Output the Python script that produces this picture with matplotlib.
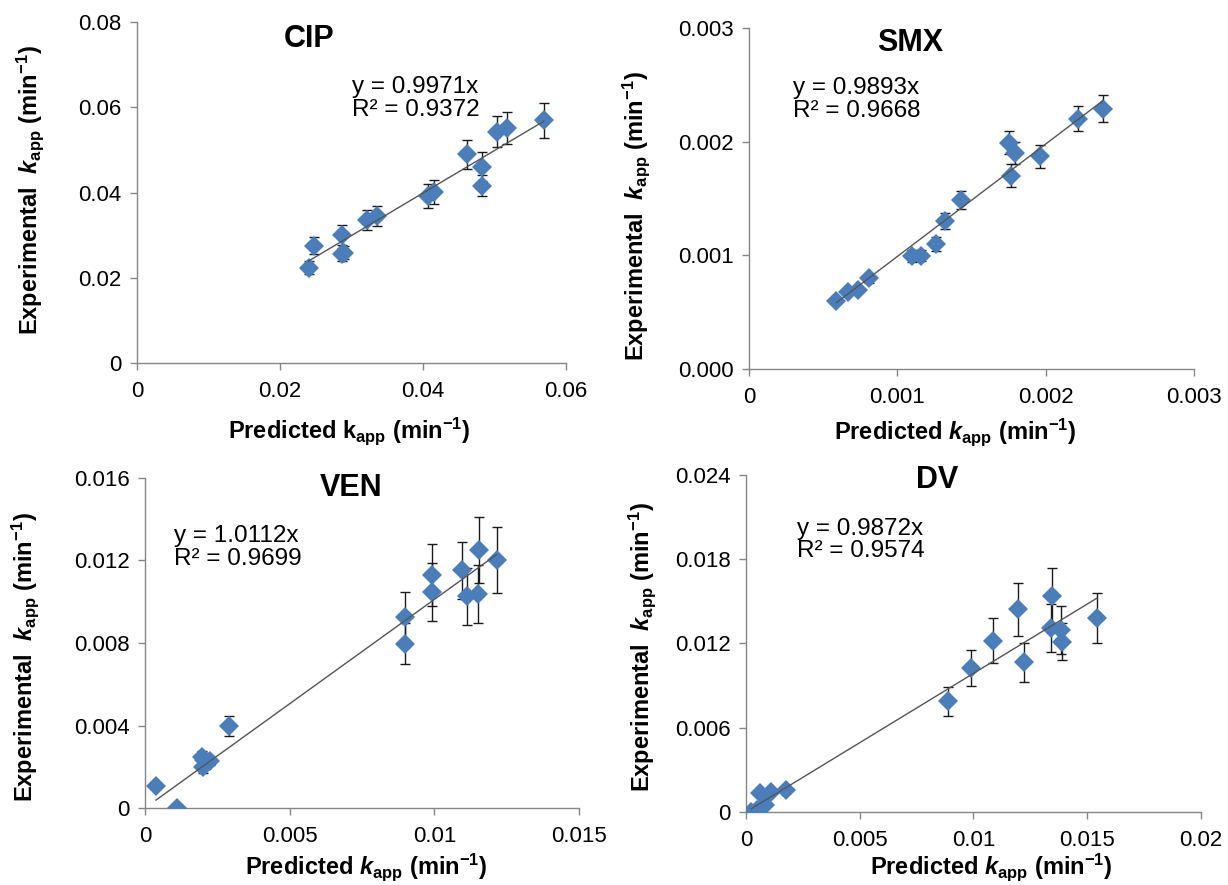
import matplotlib
matplotlib.use("Agg")
import matplotlib.pyplot as plt

plt.rcParams['font.family'] = ['Liberation Sans', 'DejaVu Sans']
plt.rcParams['mathtext.fontset'] = 'custom'
plt.rcParams['mathtext.rm'] = 'Liberation Sans'
plt.rcParams['mathtext.it'] = 'Liberation Sans:italic'
plt.rcParams['mathtext.bf'] = 'Liberation Sans:bold'
plt.rcParams['mathtext.bfit'] = 'Liberation Sans:italic:bold'

# CIP
cip_pred = [0.0240, 0.0248, 0.0287, 0.0286, 0.0290, 0.0322, 0.0335, 0.0407, 0.0416,
            0.0461, 0.0483, 0.0483, 0.0504, 0.0518, 0.0569]
cip_exp = [0.0224, 0.0275, 0.0301, 0.0255, 0.0259, 0.0336, 0.0345, 0.0391, 0.0402,
           0.0490, 0.0461, 0.0416, 0.0543, 0.0551, 0.0569]
cip_err = [0.0015, 0.0020, 0.0023, 0.0015, 0.0015, 0.0023, 0.0023, 0.0028, 0.0028,
           0.0034, 0.0033, 0.0025, 0.0037, 0.0037, 0.0040]

# SMX
smx_pred = [0.00059, 0.000667, 0.000733, 0.00081, 0.0011, 0.001157, 0.001259, 0.00132,
            0.001427, 0.001752, 0.001792, 0.001765, 0.001965, 0.002219, 0.002387]
smx_exp = [0.000598, 0.00068, 0.000695, 0.000798, 0.000994, 0.000997, 0.0011, 0.0013,
           0.00149, 0.00199, 0.0019, 0.0017, 0.00187, 0.0022, 0.00229]
smx_err = [0.00002, 0.00003, 0.00003, 0.00004, 0.00005, 0.00005, 0.00006, 0.00007,
           0.00008, 0.0001, 0.0001, 0.0001, 0.0001, 0.00011, 0.00012]

# VEN
ven_pred = [0.00038, 0.00109, 0.00196, 0.00200, 0.00205, 0.00225, 0.0029, 0.0090, 0.0090,
            0.00993, 0.00993, 0.01094, 0.01112, 0.01152, 0.01155, 0.01215]
ven_exp = [0.00105, 0.0, 0.00247, 0.00199, 0.00235, 0.00228, 0.00398, 0.00926, 0.00797,
           0.01131, 0.01047, 0.01152, 0.01026, 0.01039, 0.0125, 0.01201]
ven_err = [0, 0, 0.0003, 0.0003, 0.0003, 0.0002, 0.0005, 0.0012, 0.0010,
           0.0015, 0.0014, 0.0014, 0.0014, 0.0014, 0.0016, 0.0016]

# DV
dv_pred = [0.00023, 0.0005, 0.00082, 0.00063, 0.0011, 0.00177, 0.00886, 0.00987, 0.01087,
           0.01194, 0.01221, 0.01346, 0.01339, 0.01383, 0.01387, 0.01541]
dv_exp = [0.0, 0.00017, 0.0005, 0.00135, 0.0014, 0.00159, 0.00787, 0.01024, 0.01221,
          0.01444, 0.01065, 0.01539, 0.01309, 0.01297, 0.01214, 0.0138]
dv_err = [0, 0, 0, 0, 0, 0, 0.001, 0.0013, 0.0016, 0.0019, 0.0014, 0.002, 0.0017,
          0.0017, 0.0013, 0.0018]

names = ["CIP", "SMX", "VEN", "DV"]
slopes = [0.9971, 0.9893, 1.0112, 0.9872]
r2 = [0.9372, 0.9668, 0.9699, 0.9574]

xticks = [[0, 0.02, 0.04, 0.06], [0, 0.001, 0.002, 0.003],
          [0, 0.005, 0.01, 0.015], [0, 0.005, 0.01, 0.015, 0.02]]
xticklabels = [["0", "0.02", "0.04", "0.06"], ["0", "0.001", "0.002", "0.003"],
               ["0", "0.005", "0.01", "0.015"], ["0", "0.005", "0.01", "0.015", "0.02"]]
yticks = [[0, 0.02, 0.04, 0.06, 0.08], [0, 0.001, 0.002, 0.003],
          [0, 0.004, 0.008, 0.012, 0.016], [0, 0.006, 0.012, 0.018, 0.024]]
yticklabels = [["0", "0.02", "0.04", "0.06", "0.08"], ["0.000", "0.001", "0.002", "0.003"],
               ["0", "0.004", "0.008", "0.012", "0.016"], ["0", "0.006", "0.012", "0.018", "0.024"]]

preds = [cip_pred, smx_pred, ven_pred, dv_pred]
exps = [cip_exp, smx_exp, ven_exp, dv_exp]
errs = [cip_err, smx_err, ven_err, dv_err]

# layout (figure fractions) and text positions (axes fractions)
boxes = [[0.1116, 0.5898, 0.3493, 0.3853], [0.6099, 0.5831, 0.3624, 0.3853],
         [0.1181, 0.0870, 0.3534, 0.3729], [0.6075, 0.0825, 0.3705, 0.3808]]
title_pos = [(0.40, 0.95), (0.362, 0.955), (0.475, 0.97), (0.42, 0.985)]
eq_pos = [(0.50, 0.775), (0.10, 0.79), (0.066, 0.79), (0.112, 0.807)]
ylab_pos = [(-0.25, 0.507), (-0.254, 0.449), (-0.276, 0.458), (-0.229, 0.49)]
xlab_pos = [(0.494, -0.2), (0.463, -0.185), (0.509, -0.18), (0.54, -0.165)]

ylab = r'Experimental  $\mathbfit{k}_{\mathbf{app}}$ (min$^{\mathbf{-1}}$)'
xlab_cip = r'Predicted $\mathbf{k}_{\mathbf{app}}$ (min$^{\mathbf{-1}}$)'
xlab = r'Predicted $\mathbfit{k}_{\mathbf{app}}$ (min$^{\mathbf{-1}}$)'

fig = plt.figure(figsize=(12.28, 8.85), dpi=100)
for i in range(4):
    ax = fig.add_axes(boxes[i])
    ax.errorbar(preds[i], exps[i], yerr=errs[i], fmt='none', ecolor='#1a1a1a',
                elinewidth=1, capsize=3.5, capthick=1, zorder=2)
    ax.plot(preds[i], exps[i], 'D', color='#4a7ebb', markersize=10.5,
            markeredgewidth=0, zorder=3)
    x0, x1 = min(preds[i]), max(preds[i])
    ax.plot([x0, x1], [slopes[i] * x0, slopes[i] * x1], color='#555555',
            linewidth=1, zorder=4)
    ax.set_xlim(xticks[i][0], xticks[i][-1])
    ax.set_ylim(yticks[i][0], yticks[i][-1])
    ax.set_xticks(xticks[i])
    ax.set_xticklabels(xticklabels[i])
    ax.set_yticks(yticks[i])
    ax.set_yticklabels(yticklabels[i])
    for s in ['top', 'right']:
        ax.spines[s].set_visible(False)
    for s in ['left', 'bottom']:
        ax.spines[s].set_color('#868686')
        ax.spines[s].set_linewidth(1)
    ax.tick_params(axis='both', colors='#868686', labelcolor='black',
                   labelsize=16, length=5, width=1)
    ax.tick_params(axis='x', pad=8)
    ax.tick_params(axis='y', pad=6)
    ax.text(*title_pos[i], names[i], transform=ax.transAxes, ha='center',
            va='center', fontsize=22, fontweight='bold')
    ax.text(*eq_pos[i], "y = %.4fx\nR² = %.4f" % (slopes[i], r2[i]),
            transform=ax.transAxes, ha='left', va='center', fontsize=17.5,
            linespacing=1.05)
    ax.set_ylabel(ylab, fontsize=17, fontweight='bold', va='center')
    ax.yaxis.set_label_coords(*ylab_pos[i])
    ax.set_xlabel(xlab_cip if i == 0 else xlab, fontsize=17, fontweight='bold',
                  va='center')
    ax.xaxis.set_label_coords(*xlab_pos[i])
    ax.patch.set_alpha(0)

fig.savefig("out.png", dpi=100)
